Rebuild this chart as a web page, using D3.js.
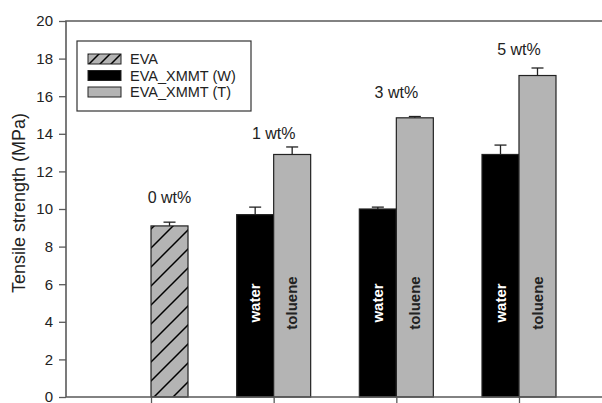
<!DOCTYPE html>
<html>
  <head>
    <meta charset="UTF-8" />
    <title>Tensile strength of EVA nanocomposites</title>
    <style>
      body { margin: 0; background: #fff; }
      text { font-family: Arial, "Liberation Sans", sans-serif; }
    </style>
  </head>
  <body>
    <script src="https://cdn.jsdelivr.net/npm/d3@7/dist/d3.min.js"></script>
    <script>
      // data
      var loadings = ["0 wt%", "1 wt%", "3 wt%", "5 wt%"];
      var evaStrength = [9.1, null, null, null];
      var evaError = [0.2, null, null, null];
      var waterStrength = [null, 9.7, 10.0, 12.9];
      var waterError = [null, 0.4, 0.1, 0.5];
      var tolueneStrength = [null, 12.9, 14.85, 17.1];
      var tolueneError = [null, 0.4, 0.07, 0.4];
      var labelLevel = [10.3, 13.7, 15.9, 18.2];
      var yTicks = [0, 2, 4, 6, 8, 10, 12, 14, 16, 18, 20];
      var legendNames = ["EVA", "EVA_XMMT (W)", "EVA_XMMT (T)"];

      var width = 602, height = 403;
      // note: "top" is reserved on window, so plot edges get their own names
      var plotLeft = 66, plotRight = 604, plotTop = 21, plotBottom = 397;
      var barW = 37;
      var axisColor = "#5a5a5a";
      var grey = "#b4b4b4";

      var svg = d3.select("body").append("svg")
        .attr("width", width)
        .attr("height", height);

      var defs = svg.append("defs");
      function hatch(id, step) {
        var p = defs.append("pattern")
          .attr("id", id)
          .attr("patternUnits", "userSpaceOnUse")
          .attr("width", step)
          .attr("height", step);
        p.append("rect").attr("width", step).attr("height", step).attr("fill", grey);
        p.append("path")
          .attr("d", "M0," + step + "L" + step + ",0M-2,2L2,-2M" + (step - 2) + "," + (step + 2) + "L" + (step + 2) + "," + (step - 2))
          .attr("stroke", "#000")
          .attr("stroke-width", 1.5);
      }
      hatch("hatchBar", 19);
      hatch("hatchLegend", 11);

      var x = d3.scalePoint().domain(loadings).range([plotLeft, plotRight]).padding(0.693);
      var y = d3.scaleLinear().domain([0, 20]).range([plotBottom, plotTop]);

      // series drawn either left or right of the category tick
      var series = [
        { values: evaStrength, errors: evaError, side: 0, fill: "url(#hatchBar)" },
        { values: waterStrength, errors: waterError, side: -1, fill: "#000" },
        { values: tolueneStrength, errors: tolueneError, side: 0, fill: grey }
      ];

      var bars = svg.append("g");
      series.forEach(function(s) {
        var rows = loadings.map(function(c, i) {
          return { c: c, v: s.values[i], e: s.errors[i] };
        }).filter(function(d) { return d.v != null; });

        var g = bars.append("g");
        // error bars (upper only)
        g.selectAll("line.err")
          .data(rows)
          .enter()
          .append("line")
          .attr("x1", function(d) { return x(d.c) + s.side * barW + barW / 2; })
          .attr("x2", function(d) { return x(d.c) + s.side * barW + barW / 2; })
          .attr("y1", function(d) { return y(d.v); })
          .attr("y2", function(d) { return y(d.v + d.e); })
          .attr("stroke", "#222")
          .attr("stroke-width", 1.3);
        g.selectAll("line.cap")
          .data(rows)
          .enter()
          .append("line")
          .attr("x1", function(d) { return x(d.c) + s.side * barW + barW / 2 - 6; })
          .attr("x2", function(d) { return x(d.c) + s.side * barW + barW / 2 + 6; })
          .attr("y1", function(d) { return y(d.v + d.e); })
          .attr("y2", function(d) { return y(d.v + d.e); })
          .attr("stroke", "#222")
          .attr("stroke-width", 1.3);
        g.selectAll("rect")
          .data(rows)
          .enter()
          .append("rect")
          .attr("x", function(d) { return x(d.c) + s.side * barW; })
          .attr("y", function(d) { return y(d.v); })
          .attr("width", barW)
          .attr("height", function(d) { return y(0) - y(d.v); })
          .attr("fill", s.fill)
          .attr("stroke", "#222")
          .attr("stroke-width", 1.2);
      });

      // solvent names written inside bars
      var inner = svg.append("g")
        .attr("font-size", "15px")
        .attr("font-weight", "bold")
        .attr("text-anchor", "middle");
      loadings.forEach(function(c, i) {
        if (waterStrength[i] != null) {
          inner.append("text")
            .attr("transform", "translate(" + (x(c) - barW / 2) + "," + y(5) + ") rotate(-90)")
            .attr("dy", "0.35em")
            .attr("fill", "#fff")
            .text("water");
        }
        if (tolueneStrength[i] != null) {
          inner.append("text")
            .attr("transform", "translate(" + (x(c) + barW / 2) + "," + y(5) + ") rotate(-90)")
            .attr("dy", "0.35em")
            .attr("fill", "#222")
            .text("toluene");
        }
      });

      // loading labels
      svg.append("g").selectAll("text")
        .data(loadings)
        .enter()
        .append("text")
        .attr("x", function(d, i) { return i == 0 ? x(d) + barW / 2 : x(d); })
        .attr("y", function(d, i) { return y(labelLevel[i]); })
        .attr("text-anchor", "middle")
        .attr("font-size", "16px")
        .attr("fill", "#222")
        .text(function(d) { return d; });

      // axes
      var yAxis = svg.append("g")
        .attr("transform", "translate(" + plotLeft + ",0)")
        .call(d3.axisLeft(y).tickValues(yTicks).tickSize(7).tickPadding(6));
      var xAxis = svg.append("g")
        .attr("transform", "translate(0," + plotBottom + ")")
        .call(d3.axisBottom(x).tickSize(7).tickFormat(""));
      [yAxis, xAxis].forEach(function(a) {
        a.select(".domain").remove();
        a.selectAll("line").attr("stroke", axisColor).attr("stroke-width", 1.3);
      });
      yAxis.selectAll("text")
        .attr("font-size", "15px")
        .attr("fill", "#222")
        .attr("font-family", "Arial, 'Liberation Sans', sans-serif");

      svg.append("path")
        .attr("d", "M" + plotRight + "," + plotTop + "H" + plotLeft + "V" + plotBottom + "H" + plotRight)
        .attr("fill", "none")
        .attr("stroke", axisColor)
        .attr("stroke-width", 1.6);

      svg.append("text")
        .attr("transform", "translate(25,203) rotate(-90)")
        .attr("text-anchor", "middle")
        .attr("font-size", "18px")
        .attr("fill", "#222")
        .text("Tensile strength (MPa)");

      // legend
      var legend = svg.append("g");
      legend.append("rect")
        .attr("x", 77).attr("y", 41)
        .attr("width", 174).attr("height", 70)
        .attr("fill", "#fff")
        .attr("stroke", "#333")
        .attr("stroke-width", 1.2);
      var legendFills = ["url(#hatchLegend)", "#000", grey];
      var item = legend.selectAll("g.item")
        .data(legendNames)
        .enter()
        .append("g")
        .attr("transform", function(d, i) { return "translate(88," + (54 + i * 16.5) + ")"; });
      item.append("rect")
        .attr("width", 33).attr("height", 10)
        .attr("fill", function(d, i) { return legendFills[i]; })
        .attr("stroke", "#222")
        .attr("stroke-width", 1);
      item.append("text")
        .attr("x", 42).attr("y", 5)
        .attr("dy", "0.36em")
        .attr("font-size", "14.5px")
        .attr("fill", "#222")
        .text(function(d) { return d; });
    </script>
  </body>
</html>
